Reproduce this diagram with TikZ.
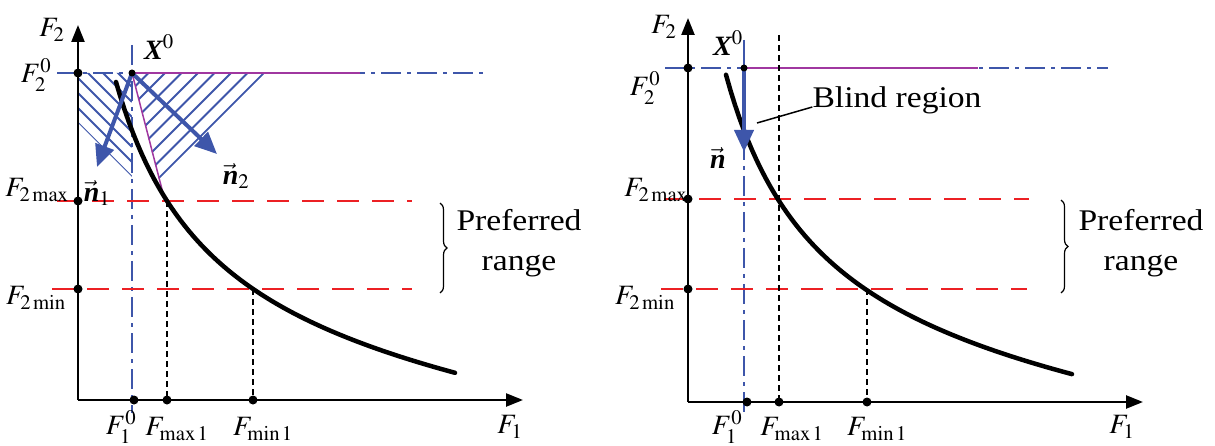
\documentclass[tikz,border=0pt]{standalone}
\usepackage{mathptmx}
\usepackage{fontspec}
\setmainfont{Liberation Serif}
\newfontfamily\widefont[FakeStretch=1.12]{Liberation Serif}
\usetikzlibrary{arrows.meta,decorations.pathreplacing}
\definecolor{axisblue}{RGB}{62,86,170}
\definecolor{conemag}{RGB}{160,55,160}
\definecolor{limred}{RGB}{236,32,36}

\tikzset{
  axisline/.style={line width=2.4pt, -{Triangle[length=17pt,width=13pt]}},
  dot/.style={circle, fill=black, inner sep=0pt, minimum size=9pt},
  refline/.style={axisblue, line width=1.6pt, dash pattern=on 20pt off 6pt on 4pt off 6pt},
  limline/.style={limred, line width=2pt, dash pattern=on 22pt off 13pt},
  dropline/.style={black, line width=1.6pt, dash pattern=on 6pt off 4pt},
  hatch/.style={axisblue, line width=1.8pt},
  conebound/.style={conemag, line width=1.5pt},
  normvec/.style={axisblue, line width=4pt, -{Triangle[length=22pt,width=19pt]}},
  frontier/.style={line width=4.5pt, line cap=round},
  rangebrace/.style={decorate, decoration={brace, amplitude=7pt}, line width=1.2pt},
  lab/.style={font=\fontsize{28}{30}\selectfont, inner sep=0pt},
  txt/.style={font=\widefont\fontsize{30}{40}\selectfont, inner sep=0pt, align=center},
}
\newcommand{\bvec}[1]{\vec{\mbox{\bfseries\itshape #1}}}

\begin{document}
\begin{tikzpicture}[x=1pt,y=-1pt]
\useasboundingbox (0,0) rectangle (1215,446);

% ---------- left panel: two normals ----------
\coordinate (o1) at (78,400);
\coordinate (x01) at (132,73);
\coordinate (pmax1) at (167,201);
\coordinate (pmin1) at (253,289);

% hatched cones
\begin{scope}
  \clip (78,73) -- (x01) -- (132,177) -- (78,123) -- cycle;
  \foreach \k in {0,...,7}
    \draw[hatch] (132,177-15*\k) -- ++(-120,-120);
\end{scope}
\begin{scope}
  \clip (x01) -- (266,72) -- (159,179) -- (158,177) -- cycle;
  \foreach \k in {0,...,7}
    \draw[hatch] (264-16.5*\k,73) -- ++(-120,120);
\end{scope}

\draw[refline] (57,73) -- (488,73);
\draw[refline] (132,45) -- (132,413);
\draw[limline] (57,201) -- (412,201);
\draw[limline] (52,289) -- (412,289);
\draw[conebound] (x01) -- (360,73);
\draw[conebound] (x01) -- (165,201);
\draw[dropline] (pmax1) -- (pmax1 |- o1);
\draw[dropline] (pmin1) -- (pmin1 |- o1);

\draw[axisline] (o1) -- (78,25);
\draw[axisline] (o1) -- (523,400);

\draw[frontier] plot[domain=116:455, samples=80]
  (\x, {397.3 - 314.42/((\x-20)/100) + 0.105*\x});

\coordinate (n1tip) at (97,167);
\coordinate (n2tip) at (217,154);
\draw[normvec] (x01) -- (n1tip);
\draw[normvec] (x01) -- (n2tip);

\node[dot] (d20a) at (78,73) {};
\node[dot] (dmaxa) at (78,201) {};
\node[dot] (dmina) at (78,289) {};
\node[dot] (d10a) at (134,400) {};
\node[dot] (dx1a) at (pmax1 |- o1) {};
\node[dot] (dx2a) at (pmin1 |- o1) {};
\node[dot, minimum size=7pt] (dx0a) at (x01) {};

\node[lab] (lf2a) at (52,30) {$F_2$};
\node[lab] (lf20a) at (36,75) {$F_2^0$};
\node[lab] (lf2maxa) at (37,190) {$F_{2\,\mathrm{max}}$};
\node[lab] (lf2mina) at (36,298) {$F_{2\,\mathrm{min}}$};
\node[lab] (lx0a) at (159,47) {$\mbox{\bfseries\itshape X}^0$};
\node[lab] (ln1) at (97,193) {$\bvec{n}_1$};
\node[lab] (ln2) at (236,176) {$\bvec{n}_2$};
\node[lab] (lf10a) at (121,427) {$F_1^0$};
\node[lab] (lfmaxa) at (177,429) {$F_{\mathrm{max}\,1}$};
\node[lab] (lfmina) at (263,429) {$F_{\mathrm{min}\,1}$};
\node[lab] (lf1a) at (510,427) {$F_1$};
\draw[rangebrace] (440,203) -- (440,293);
\node[txt] (prefa) at (519,243) {Preferred\\range};

% ---------- right panel: blind region ----------
\coordinate (o2) at (688,402);
\coordinate (x02) at (744,68);
\coordinate (pmax2) at (779,200);
\coordinate (pmin2) at (867,289);

\draw[refline] (665,68) -- (1108,68);
\draw[axisblue, line width=1.6pt] (744,40) -- (x02);
\draw[refline] (x02) -- (744,413);
\draw[limline] (664,199) -- (1029,199);
\draw[limline] (661,289) -- (1027,289);
\draw[conebound] (x02) -- (978,68);
\draw[dropline] (779,35) -- (pmax2 |- o2);
\draw[dropline] (pmin2) -- (pmin2 |- o2);

\draw[axisline] (o2) -- (688,18);
\draw[axisline] (o2) -- (1143,402);

\draw[frontier] plot[domain=726:1072, samples=80]
  (\x, {397.3 - 314.42/((\x-632)/100) + 0.105*(\x-612)});

\coordinate (ntip) at (744,152);
\draw[normvec] (x02) -- (ntip);

\node[dot] (d20b) at (688,68) {};
\node[dot] (dmaxb) at (688,199) {};
\node[dot] (dminb) at (688,289) {};
\node[dot] (d10b) at (747,402) {};
\node[dot] (dx1b) at (pmax2 |- o2) {};
\node[dot] (dx2b) at (pmin2 |- o2) {};
\node[dot, minimum size=7pt] (dx0b) at (x02) {};

\node[lab] (lf2b) at (664,27) {$F_2$};
\node[lab] (lf20b) at (645,88) {$F_2^0$};
\node[lab] (lf2maxb) at (656,190) {$F_{2\,\mathrm{max}}$};
\node[lab] (lf2minb) at (645,298) {$F_{2\,\mathrm{min}}$};
\node[lab] (lx0b) at (728,43) {$\mbox{\bfseries\itshape X}^0$};
\node[lab] (ln) at (718,158) {$\bvec{n}$};
\node[lab] (lf10b) at (727,427) {$F_1^0$};
\node[lab] (lfmaxb) at (792,429) {$F_{\mathrm{max}\,1}$};
\node[lab] (lfminb) at (877,429) {$F_{\mathrm{min}\,1}$};
\node[lab] (lf1b) at (1122,427) {$F_1$};

\node[txt] (blind) at (897,100) {Blind region};
\coordinate (lead) at (757,123);
\draw[line width=1.5pt] (lead) -- ([yshift=-7pt]blind.west);

\draw[rangebrace] (1061,200) -- (1061,293);
\node[txt] (prefb) at (1141,243) {Preferred\\range};
\end{tikzpicture}
\end{document}
